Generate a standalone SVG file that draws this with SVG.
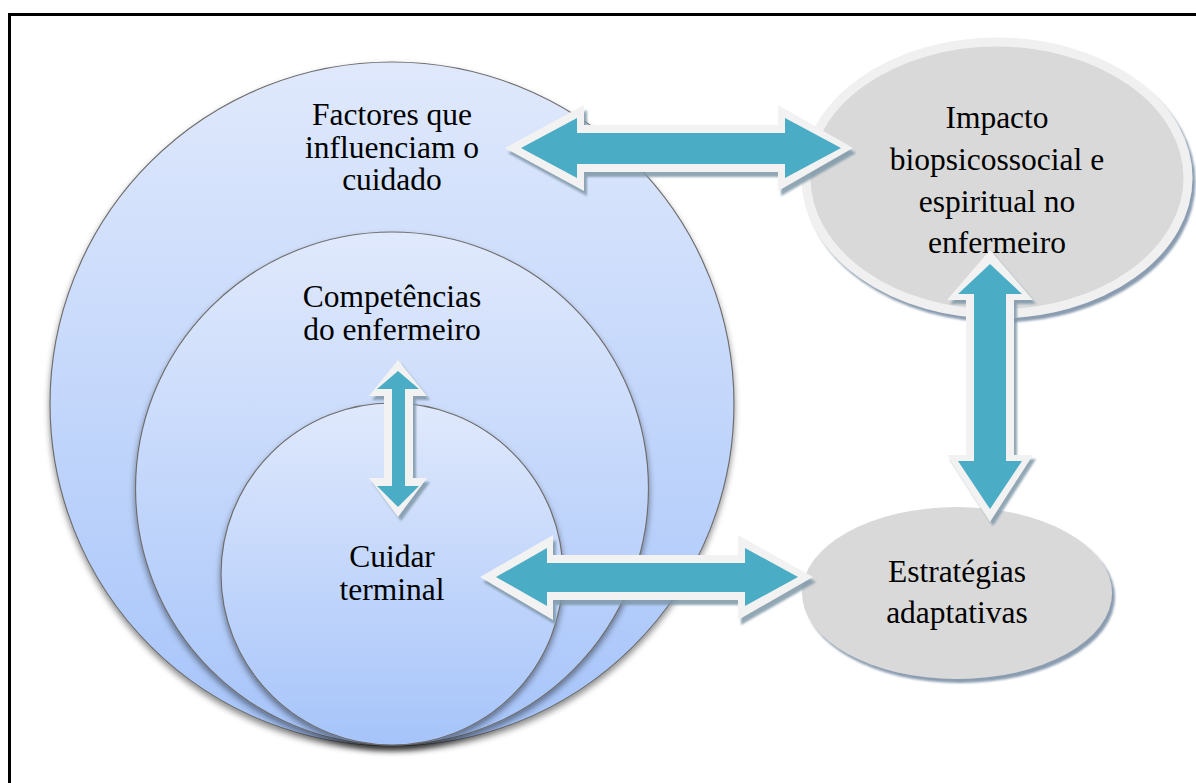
<svg xmlns="http://www.w3.org/2000/svg" width="1196" height="783" viewBox="0 0 1196 783">
<style>
.t{font-family:"Liberation Serif","Times New Roman",serif;font-size:31.5px;fill:#000;text-anchor:middle}
.circ{stroke:#6e6e6e;stroke-width:1.2;filter:url(#cshadow)}
.brd{fill:#f2f2f2}
.teal{fill:#4bacc6}
.shd{fill:#7f98a8;opacity:0.85}
</style>
<defs>
<linearGradient id="blue" x1="0" y1="0" x2="0" y2="1">
<stop offset="0" stop-color="#e0e9fc"/>
<stop offset="1" stop-color="#a6c4fa"/>
</linearGradient>
<filter id="cshadow" x="-10%" y="-10%" width="120%" height="125%">
<feDropShadow dx="0" dy="4" stdDeviation="3" flood-color="#000" flood-opacity="0.45"/>
</filter>
<filter id="eshadow" x="-10%" y="-10%" width="125%" height="125%">
<feDropShadow dx="3" dy="4" stdDeviation="1" flood-color="#7d91a8" flood-opacity="0.9"/>
</filter>
<filter id="blur1"><feGaussianBlur stdDeviation="0.8"/></filter>
</defs>
<rect width="1196" height="783" fill="#fff"/>
<path d="M9.5 783 V14.5 H1196" fill="none" stroke="#000" stroke-width="3"/>

<g id="node-factores">
<circle class="circ" cx="392" cy="404" r="342" fill="url(#blue)"/>
<text class="t" x="392" y="125">Factores que</text>
<text class="t" x="392" y="158">influenciam o</text>
<text class="t" x="392" y="190">cuidado</text>
</g>
<g id="node-competencias">
<circle class="circ" cx="392" cy="488.5" r="256.5" fill="url(#blue)"/>
<text class="t" x="392" y="307">Competências</text>
<text class="t" x="392" y="340">do enfermeiro</text>
</g>
<g id="node-cuidar">
<circle class="circ" cx="392" cy="574" r="171" fill="url(#blue)"/>
<text class="t" x="392" y="567">Cuidar</text>
<text class="t" x="392" y="600">terminal</text>
</g>
<g id="node-impacto">
<ellipse cx="997" cy="178" rx="191" ry="136" fill="#d9d9d9" stroke="#f0f0f0" stroke-width="9" filter="url(#eshadow)"/>
<text class="t" x="997" y="128">Impacto</text>
<text class="t" x="997" y="170">biopsicossocial e</text>
<text class="t" x="997" y="212">espiritual no</text>
<text class="t" x="997" y="253">enfermeiro</text>
</g>
<g id="node-estrategias">
<ellipse cx="957" cy="593" rx="155" ry="86" fill="#d9d9d9" filter="url(#eshadow)"/>
<text class="t" x="957" y="582">Estratégias</text>
<text class="t" x="957" y="623">adaptativas</text>
</g>

<g id="connectors">
<g id="arrow-factores-impacto">
<polygon class="shd" filter="url(#blur1)" transform="translate(3,5)" points="505,148 584,105 584,125 778,125 778,105 853,148 778,191 778,172 584,172 584,191"/>
<polygon class="brd" points="505,148 584,105 584,125 778,125 778,105 853,148 778,191 778,172 584,172 584,191"/>
<polygon class="teal" points="521,148 577,118 577,133 785,133 785,118 841,148 785,178 785,164 577,164 577,178"/>
</g>
<g id="arrow-cuidar-estrategias">
<polygon class="shd" filter="url(#blur1)" transform="translate(3,5)" points="480,577 553,535 553,555 738,555 738,535 813,577 738,620 738,600 553,600 553,620"/>
<polygon class="brd" points="480,577 553,535 553,555 738,555 738,535 813,577 738,620 738,600 553,600 553,620"/>
<polygon class="teal" points="496,577 547,548 547,563 745,563 745,548 798,577 745,606 745,592 547,592 547,606"/>
</g>
<g id="arrow-competencias-cuidar">
<polygon class="shd" filter="url(#blur1)" transform="translate(3,4)" points="398,360 427,396 413,396 413,478 427,478 398,517 369,478 384,478 384,396 369,396"/>
<polygon class="brd" points="398,360 427,396 413,396 413,478 427,478 398,517 369,478 384,478 384,396 369,396"/>
<polygon class="teal" points="398,371 419,389 405,389 405,486 419,486 398,507 377,486 392,486 392,389 377,389"/>
</g>
<g id="arrow-impacto-estrategias">
<polygon class="shd" filter="url(#blur1)" transform="translate(3,4)" points="990,250 1033,300 1014,300 1014,455 1033,455 990,522 947,455 966,455 966,300 947,300"/>
<polygon class="brd" points="990,250 1033,300 1014,300 1014,455 1033,455 990,522 947,455 966,455 966,300 947,300"/>
<polygon class="teal" points="990,264 1022,294 1006,294 1006,461 1022,461 990,509 958,461 974,461 974,294 958,294"/>
</g>
</g>
</svg>
